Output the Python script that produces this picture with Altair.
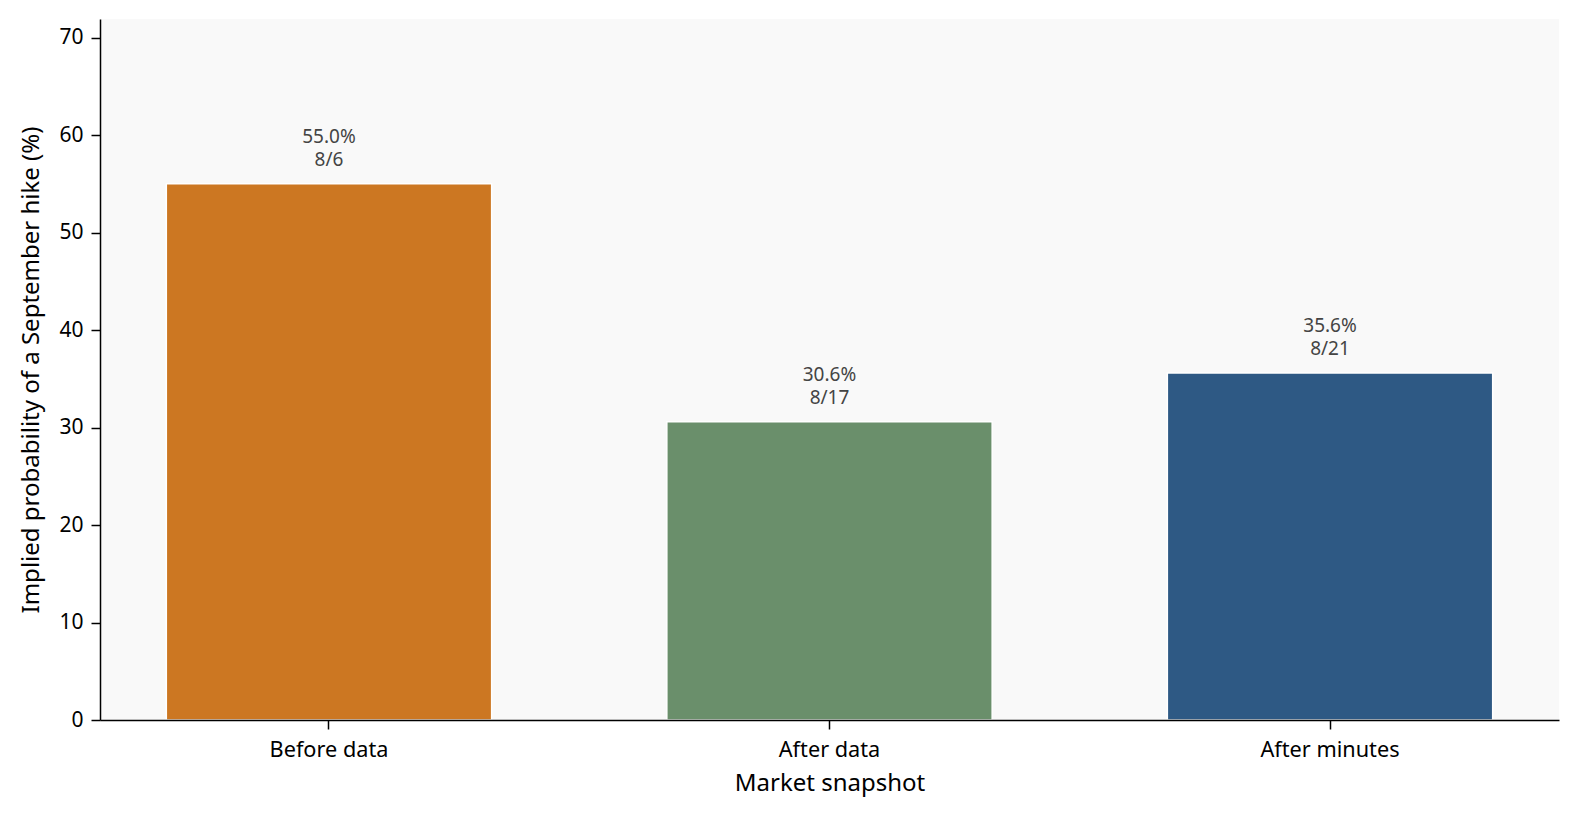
import altair as alt
import pandas as pd

categories = ["Before data", "After data", "After minutes"]
values = [55.0, 30.6, 35.6]
dates = ["8/6", "8/17", "8/21"]
colors = ["#cc7722", "#6a8f6b", "#2e5984"]

df = pd.DataFrame({
    "snapshot": categories,
    "prob": values,
    "date": dates,
    "label": [f"{v:.1f}%\n{d}" for v, d in zip(values, dates)],
})

FONT = "Noto Sans"

x = alt.X(
    "snapshot:N",
    sort=categories,
    scale=alt.Scale(paddingInner=0.35, paddingOuter=0.1325),
    axis=alt.Axis(
        title="Market snapshot",
        labelAngle=0,
        labelFontSize=21.7,
        titleFontSize=24,
        labelColor="#000000",
        titleColor="#000000",
        labelFont=FONT,
        titleFont=FONT,
        titleFontWeight="normal",
        domainColor="#000000",
        domainWidth=1.5,
        tickColor="#000000",
        tickWidth=1.5,
        tickSize=9,
        labelPadding=10,
        titlePadding=11,
        zindex=1,
    ),
)

y = alt.Y(
    "prob:Q",
    scale=alt.Scale(domain=[0, 71.9], nice=False, zero=True),
    axis=alt.Axis(
        title="Implied probability of a September hike (%)",
        values=[0, 10, 20, 30, 40, 50, 60, 70],
        grid=False,
        labelFontSize=21,
        titleFontSize=24,
        labelColor="#000000",
        titleColor="#000000",
        labelFont=FONT,
        titleFont=FONT,
        titleFontWeight="normal",
        domainColor="#000000",
        domainWidth=1.5,
        tickColor="#000000",
        tickWidth=1.5,
        tickSize=9,
        labelPadding=8,
        titlePadding=15,
        zindex=1,
    ),
)

bars = alt.Chart(df).mark_bar(stroke="white", strokeWidth=1.5).encode(
    x=x,
    y=y,
    color=alt.Color("snapshot:N", sort=categories,
                    scale=alt.Scale(domain=categories, range=colors), legend=None),
)

labels = alt.Chart(df).mark_text(
    baseline="alphabetic",
    align="center",
    dy=-41,
    lineBreak="\n",
    lineHeight=23,
    fontSize=19,
    font=FONT,
    color="#444444",
).encode(
    x=alt.X("snapshot:N", sort=categories),
    y=alt.Y("prob:Q"),
    text="label:N",
)

chart = (bars + labels).properties(
    width=1459,
    height=701,
    autosize=alt.AutoSizeParams(type="none"),
    padding={"left": 92, "top": 11, "right": 5, "bottom": 82},
    background="white",
).configure_view(
    fill="#f9f9f9",
    stroke=None,
)

chart.save("out.html", embed_options={"renderer": "svg", "actions": False})
